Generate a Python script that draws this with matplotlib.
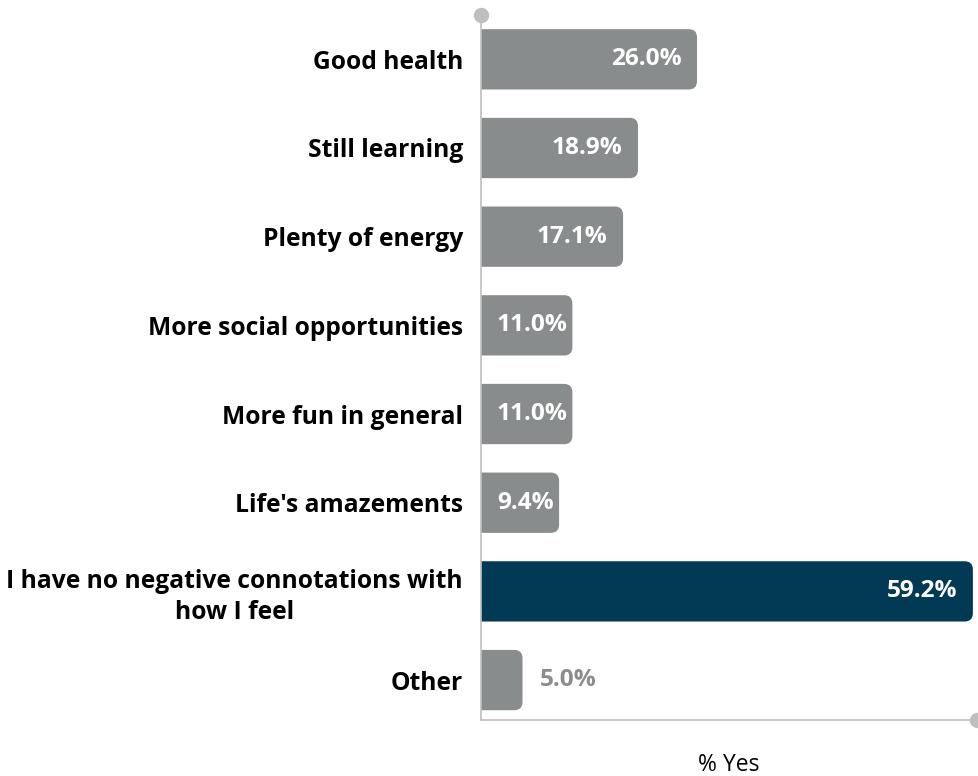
import matplotlib.pyplot as plt
from matplotlib.patches import FancyBboxPatch

plt.rcParams['font.family'] = ['Open Sans', 'DejaVu Sans']

categories = ['Good health', 'Still learning', 'Plenty of energy',
              'More social opportunities', 'More fun in general',
              "Life's amazements",
              'I have no negative connotations with\nhow I feel', 'Other']
values = [26.0, 18.9, 17.1, 11.0, 11.0, 9.4, 59.2, 5.0]
bar_colors = ['#898C8D'] * 6 + ['#023A55', '#898C8D']

axis_grey = '#BFBFBF'
xmax = 59.7

fig = plt.figure(figsize=(9.79, 7.76), dpi=100)
ax = fig.add_axes([0.4913, 0.0722, 0.5067, 0.9085])

pos = list(range(len(categories)))
bars = ax.barh(pos, values, height=0.68, color=bar_colors)
ax.set_xlim(0, xmax)
ax.set_ylim(7.45, -0.5)

# swap plain rectangles for ones with rounded right-hand corners;
# the left corners sit past x=0 and get clipped by the axes
px_x = ax.bbox.width / xmax
px_y = ax.bbox.height / 7.95
for rect, col in zip(bars, bar_colors):
    rect.set_visible(False)
    x0, y0 = rect.get_x(), rect.get_y()
    w, h = rect.get_width(), rect.get_height()
    fb = FancyBboxPatch((x0 - 2, y0), w + 2, h,
                        boxstyle='round,pad=0,rounding_size=1.0',
                        mutation_aspect=px_x / px_y,
                        facecolor=col, edgecolor='none')
    ax.add_patch(fb)

for p, v in zip(pos, values):
    txt = f'{v:.1f}%'
    if v > 15:
        ax.text(v - 1.9, p, txt, ha='right', va='center', color='white',
                fontsize=17.6, fontweight='bold')
    elif v > 8:
        ax.text(1.9, p, txt, ha='left', va='center', color='white',
                fontsize=17.6, fontweight='bold')
    else:
        ax.text(v + 2.1, p, txt, ha='left', va='center', color='#8C8C8C',
                fontsize=17.6, fontweight='bold')

ax.set_yticks(pos)
ax.set_yticklabels(categories, fontsize=17.7, fontweight='bold',
                   multialignment='center', linespacing=1.3)
ax.tick_params(axis='y', length=0, pad=13)
ax.set_xticks([])
ax.set_xlabel('% Yes', fontsize=16.5, labelpad=24)

for side in ['top', 'right']:
    ax.spines[side].set_visible(False)
for side in ['left', 'bottom']:
    ax.spines[side].set_color(axis_grey)
    ax.spines[side].set_linewidth(1.2)

# end-cap dots on the axis lines
ax.plot([0], [1], 'o', color=axis_grey, markersize=10,
        transform=ax.transAxes, clip_on=False)
ax.plot([1], [0], 'o', color=axis_grey, markersize=10,
        transform=ax.transAxes, clip_on=False)

fig.savefig('out.png', dpi=100)
